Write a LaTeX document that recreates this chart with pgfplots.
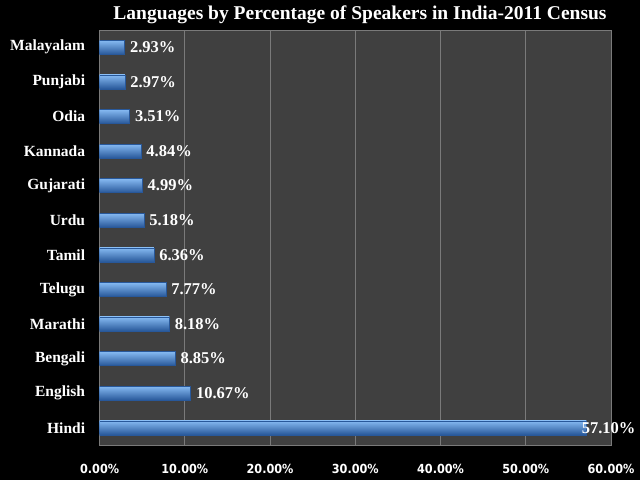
\documentclass[border=0pt]{standalone}
\usepackage{pgfplots}
\pgfplotsset{compat=1.18}
\usepackage{fontspec}
\setmainfont{Liberation Serif}
\newfontfamily\tickfont{DejaVu Sans Condensed}

\definecolor{plotbg}{HTML}{404040}
\definecolor{gridc}{HTML}{7A7A7A}
\definecolor{barlight}{HTML}{86BAF2}
\definecolor{barmid}{HTML}{4A8CDA}
\definecolor{bardark}{HTML}{28589A}

\pgfplotsset{langbar/.style={draw=bardark, line width=0.4pt,
    top color=barlight, middle color=barmid, bottom color=bardark}}

\begin{document}
\begin{tikzpicture}[x=1pt,y=1pt]
  \fill[black] (0,0) rectangle (640,480);
  \begin{axis}[
      at={(99.6pt,35pt)}, anchor=south west,
      scale only axis,
      width=511.4pt, height=415pt,
      xmin=0, xmax=60,
      ymin=-0.5, ymax=11.5,
      xtick={0,10,...,60},
      ytick={0,...,11},
      yticklabels={Hindi,English,Bengali,Marathi,Telugu,Tamil,Urdu,Gujarati,Kannada,Odia,Punjabi,Malayalam},
      /pgf/number format/assume math mode=true,
      xticklabel={\pgfmathprintnumber[fixed,fixed zerofill,precision=2]{\tick}\%},
      xticklabel style={font=\tickfont\bfseries\fontsize{12.5}{14}\selectfont, text=white, yshift=-16pt},
      yticklabel style={font=\bfseries\fontsize{15.5}{17}\selectfont, text=white, xshift=-11pt},
      major tick length=0pt,
      xmajorgrids,
      grid style={gridc, line width=0.8pt},
      axis line style={gridc, line width=0.8pt},
      axis background/.style={fill=plotbg},
      xbar, bar width=14pt, bar shift=0pt,
      point meta=x,
      visualization depends on=x \as \rawx,
      nodes near coords={\pgfmathprintnumber[fixed,fixed zerofill,precision=2]{\pgfplotspointmeta}\%},
      nodes near coords style={font=\bfseries\fontsize{16.5}{18}\selectfont, text=white, anchor=west,
        xshift={ifthenelse(\rawx>50,-8,2)}},
    ]
    % one plot per bar so that each bar gets its own shading
    \addplot[langbar] coordinates {(57.10,0)};  % Hindi
    \addplot[langbar] coordinates {(10.67,1)};  % English
    \addplot[langbar] coordinates {(8.85,2)};   % Bengali
    \addplot[langbar] coordinates {(8.18,3)};   % Marathi
    \addplot[langbar] coordinates {(7.77,4)};   % Telugu
    \addplot[langbar] coordinates {(6.36,5)};   % Tamil
    \addplot[langbar] coordinates {(5.18,6)};   % Urdu
    \addplot[langbar] coordinates {(4.99,7)};   % Gujarati
    \addplot[langbar] coordinates {(4.84,8)};   % Kannada
    \addplot[langbar] coordinates {(3.51,9)};   % Odia
    \addplot[langbar] coordinates {(2.97,10)};  % Punjabi
    \addplot[langbar] coordinates {(2.93,11)};  % Malayalam
  \end{axis}
  \node[text=white, font=\bfseries\fontsize{19.5}{22}\selectfont] at (360,465) {Languages by Percentage of Speakers in India-2011 Census};
  \pgfresetboundingbox
  \path[use as bounding box] (0,0) rectangle (640,480);
\end{tikzpicture}
\end{document}
